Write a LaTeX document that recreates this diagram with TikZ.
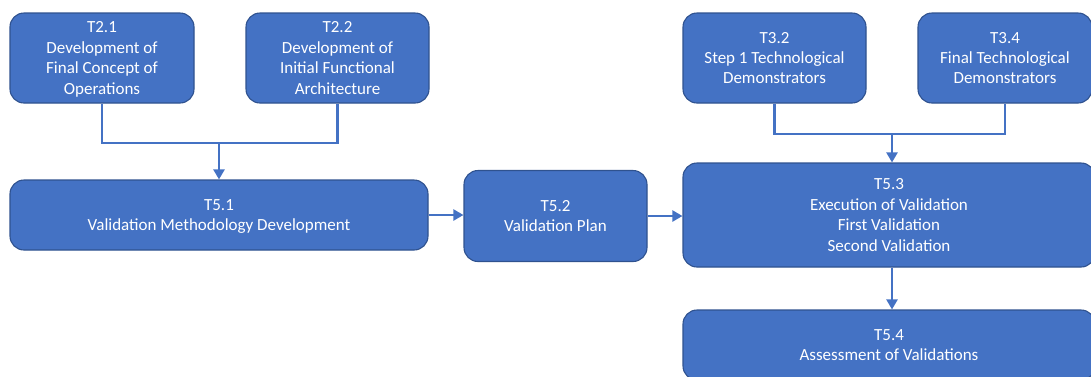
\documentclass[tikz,border=0pt]{standalone}
\usepackage{fontspec}
\setmainfont{Carlito}
\usetikzlibrary{arrows.meta}
\definecolor{boxfill}{HTML}{4472C4}
\definecolor{boxedge}{HTML}{2F528F}
\definecolor{linkcol}{HTML}{4472C4}
\tikzset{
  task/.style={draw=boxedge, line width=1.1pt, fill=boxfill, rounded corners=14pt,
    text=white, align=center, inner sep=0pt, text depth=0pt,
    font=\fontsize{17}{20.4}\selectfont},
  link/.style={draw=linkcol, line width=2.2pt},
  flow/.style={link, -{Triangle[length=10pt,width=11pt]}}
}
\begin{document}
\begin{tikzpicture}[x=1pt,y=-1pt]
  \useasboundingbox (0,0) rectangle (1091,376);
  \clip (0,0) rectangle (1091,376);

  % work package 2 inputs
  \node[task, minimum width=184pt, minimum height=90pt] (t21) at (102,58)
    {T2.1\\Development of\\Final Concept of\\Operations};
  \node[task, minimum width=183pt, minimum height=90pt] (t22) at (337.5,58)
    {T2.2\\Development of\\Initial Functional\\Architecture};

  % work package 3 inputs
  \node[task, minimum width=183pt, minimum height=90pt] (t32) at (774.5,58)
    {T3.2\\Step 1 Technological\\Demonstrators};
  \node[task, minimum width=174pt, minimum height=90pt] (t34) at (1005,58)
    {T3.4\\Final Technological\\Demonstrators};

  % validation chain
  \node[task, minimum width=418pt, minimum height=70pt] (t51) at (219,215)
    {T5.1\\Validation Methodology Development};
  \node[task, minimum width=183pt, minimum height=91pt] (t52) at (555.5,216)
    {T5.2\\Validation Plan};
  \node[task, minimum width=412pt, minimum height=104pt] (t53) at (889,215)
    {T5.3\\Execution of Validation\\First Validation\\Second Validation};
  \node[task, minimum width=412pt, minimum height=70pt] (t54) at (889,345)
    {T5.4\\Assessment of Validations};

  % junctions of the merging connectors
  \coordinate (j1) at (219,143);
  \coordinate (j2) at (892,134);

  \draw[link] (t21.south) |- (j1) -| (t22.south);
  \draw[flow] (j1) -- (t51.north);

  \draw[link] (t32.south) |- (j2) -| (t34.south);
  \draw[flow] (j2) -- (j2 |- t53.north);

  \draw[flow] (t51.east) -- (t51.east -| t52.west);
  \draw[flow] (t52.east) -- (t52.east -| t53.west);
  \draw[flow] (j2 |- t53.south) -- (j2 |- t54.north);
\end{tikzpicture}
\end{document}
